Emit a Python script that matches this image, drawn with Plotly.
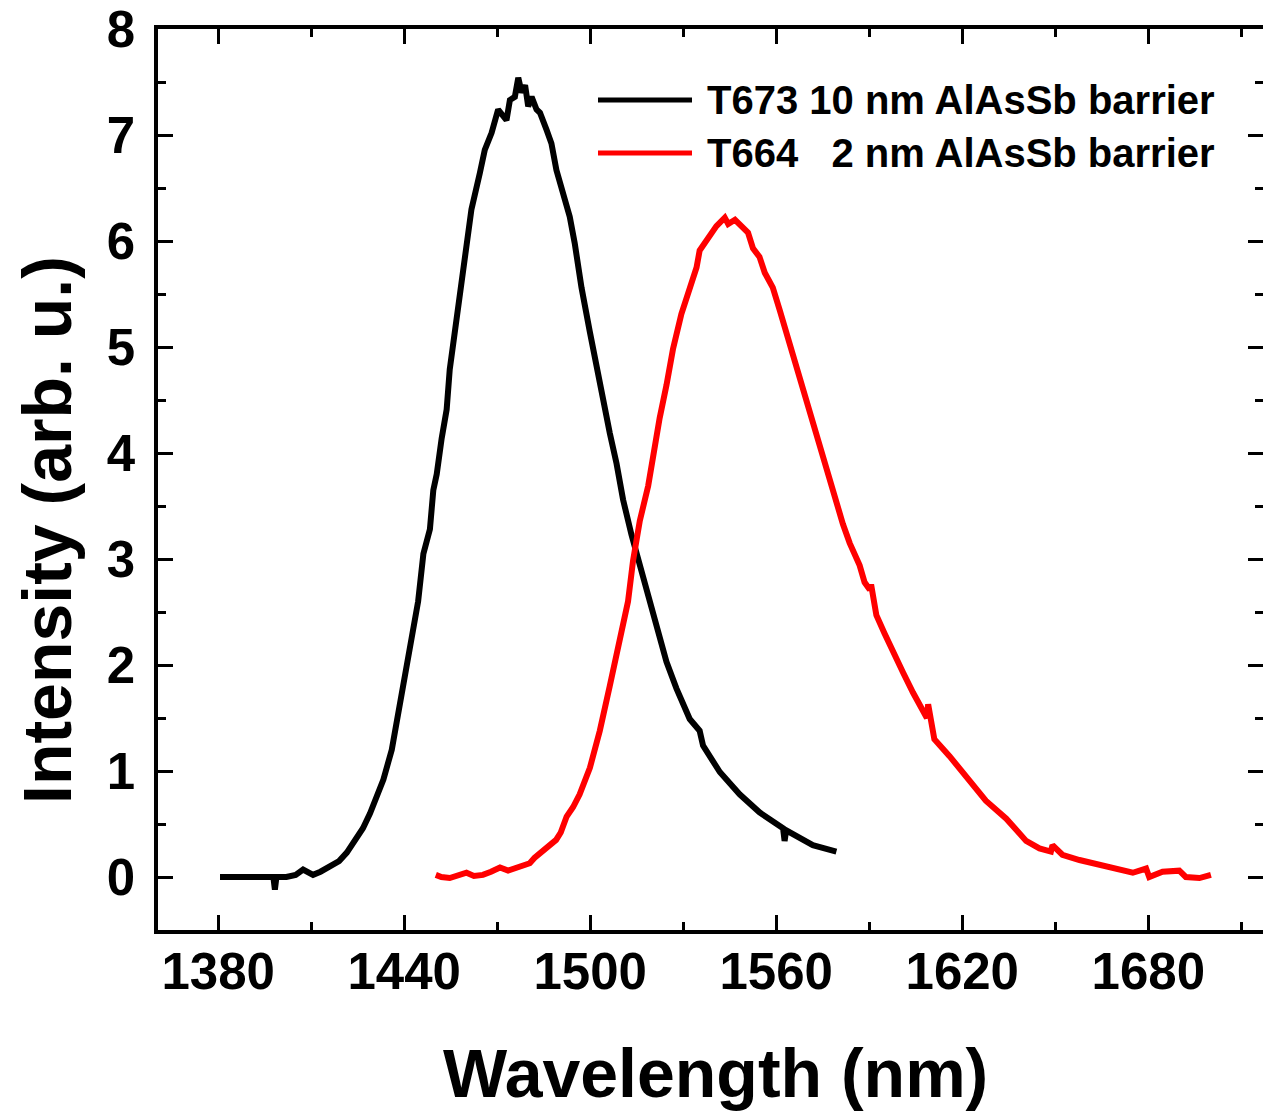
import plotly.graph_objects as go

# ---- data ----
t673_wavelength = [
    1380.6, 1385, 1390.3, 1395, 1397.8, 1398.3, 1398.8, 1402, 1405, 1407.4,
    1410.6, 1413, 1416, 1419, 1421.5, 1424, 1426.7, 1429, 1431.1, 1433.3,
    1436, 1439.2, 1442.4, 1444.5, 1446.2, 1448.3, 1449.4, 1450.5, 1452.1, 1453.7,
    1454.7, 1456.4, 1458, 1460.1, 1461.7, 1464.4, 1466, 1468.2, 1470.3, 1473,
    1474.1, 1475.7, 1476.8, 1477.9, 1479, 1480, 1481.1, 1482.7, 1483.8, 1485.9,
    1487.5, 1489.1, 1491.3, 1493.4, 1495, 1497.2, 1499.9, 1502, 1504.2, 1506.3,
    1508.5, 1510.6, 1513.3, 1516, 1518.7, 1521.4, 1524.6, 1527.8, 1532.1, 1535.3,
    1536.4, 1541.8, 1548.2, 1554.6, 1562.2, 1562.7, 1563.2, 1571.8, 1579.4,
]
t673_intensity = [
    0.0, 0.0, -0.01, 0.0, 0.0, -0.12, 0.0, 0.0, 0.02, 0.07,
    0.02, 0.05, 0.10, 0.15, 0.23, 0.33, 0.46, 0.60, 0.75, 0.92,
    1.20, 1.73, 2.30, 2.60, 3.05, 3.28, 3.65, 3.80, 4.14, 4.41,
    4.79, 5.16, 5.43, 5.90, 6.30, 6.64, 6.86, 7.02, 7.24, 7.14,
    7.33, 7.36, 7.54, 7.40, 7.47, 7.27, 7.36, 7.24, 7.21, 7.05,
    6.92, 6.67, 6.42, 6.23, 5.98, 5.56, 5.14, 4.81, 4.52, 4.19,
    3.90, 3.56, 3.23, 2.94, 2.61, 2.32, 2.03, 1.78, 1.49, 1.38,
    1.24, 0.99, 0.78, 0.61, 0.46, 0.34, 0.44, 0.30, 0.24,
]

t664_wavelength = [
    1450.2, 1452, 1454.7, 1457, 1460.1, 1462.5, 1465.4, 1468, 1470.9, 1473.5,
    1476.2, 1478.5, 1480.5, 1482, 1483.8, 1485.5, 1487, 1489, 1490.5, 1492.4,
    1494.5, 1496.6, 1499.9, 1503.1, 1506.3, 1509.5, 1512.2, 1513.8, 1516, 1518.7,
    1520.8, 1522.4, 1524.6, 1526.7, 1529.4, 1532.1, 1534.3, 1535.3, 1538.5, 1540.7,
    1543.4, 1544.5, 1546.7, 1549.3, 1550.9, 1552.5, 1554.6, 1556.3, 1558.9, 1561.1,
    1563.2, 1565.4, 1567.5, 1570.2, 1572.9, 1576.1, 1578.3, 1581.5, 1583.7, 1586.9,
    1588.5, 1590.2, 1590.6, 1592.3, 1594.9, 1597.6, 1600.9, 1604.1, 1607.4, 1608.6,
    1609, 1611, 1615.9, 1621.2, 1627.6, 1634.2, 1640.6, 1644.9, 1648.6, 1649.1,
    1652.3, 1657.8, 1662.1, 1666.4, 1670.7, 1675, 1679.3, 1680.3, 1684.6, 1690,
    1692.1, 1696.5, 1700.2,
]
t664_intensity = [
    0.02, 0.0, -0.01, 0.01, 0.04, 0.01, 0.02, 0.05, 0.09, 0.06,
    0.09, 0.11, 0.13, 0.18, 0.22, 0.26, 0.30, 0.35, 0.42, 0.57,
    0.66, 0.78, 1.03, 1.38, 1.80, 2.22, 2.60, 2.98, 3.36, 3.69,
    4.06, 4.33, 4.64, 4.98, 5.31, 5.56, 5.75, 5.91, 6.06, 6.14,
    6.22, 6.16, 6.20, 6.12, 6.08, 5.93, 5.85, 5.70, 5.56, 5.35,
    5.14, 4.93, 4.73, 4.44, 4.15, 3.88, 3.65, 3.33, 3.15, 2.94,
    2.78, 2.71, 2.76, 2.47, 2.30, 2.12, 1.93, 1.74, 1.55, 1.50,
    1.63, 1.30, 1.14, 0.94, 0.72, 0.55, 0.34, 0.27, 0.24, 0.30,
    0.21, 0.16, 0.13, 0.10, 0.07, 0.04, 0.08, 0.0, 0.05, 0.06,
    0.0, -0.01, 0.02,
]

series_names = ["T673 10 nm AlAsSb barrier", "T664\u00a0\u00a0\u00a02 nm AlAsSb barrier"]
series_colors = ["#000000", "#ff0000"]
x_tick_values = [1380, 1440, 1500, 1560, 1620, 1680]
y_tick_values = [0, 1, 2, 3, 4, 5, 6, 7, 8]
x_title = "Wavelength (nm)"
y_title = "Intensity (arb. u.)"

FONT = "Liberation Sans, Arial, Helvetica, sans-serif"

fig = go.Figure()
for xs, ys, name, col in [
    (t673_wavelength, t673_intensity, series_names[0], series_colors[0]),
    (t664_wavelength, t664_intensity, series_names[1], series_colors[1]),
]:
    fig.add_trace(go.Scatter(x=xs, y=ys, mode="lines", name=name,
                             line=dict(color=col, width=6), showlegend=False))

# invisible trace to drive the right-hand tick axis
fig.add_trace(go.Scatter(x=[1400], y=[0], yaxis="y2", mode="markers",
                         marker=dict(opacity=0), showlegend=False, hoverinfo="skip"))

tickfont = dict(family=FONT, size=51, color="black", weight="bold")

fig.update_layout(
    width=1263, height=1111,
    margin=dict(l=158, r=0, t=29, b=181),
    paper_bgcolor="white", plot_bgcolor="white",
    xaxis=dict(
        range=[1360.6, 1717.0], tickmode="array", tickvals=x_tick_values,
        ticks="inside", ticklen=15, tickwidth=3, tickcolor="black",
        showline=True, linewidth=3.5, linecolor="black", mirror="ticks",
        showgrid=False, zeroline=False, tickfont=tickfont,
        ticklabelstandoff=-6,
        minor=dict(tickmode="linear", tick0=1350, dtick=30, ticks="inside",
                   ticklen=8, tickwidth=3, tickcolor="black", showgrid=False),
    ),
    yaxis=dict(
        range=[-0.5, 8], tickmode="array", tickvals=y_tick_values,
        ticks="inside", ticklen=15, tickwidth=3, tickcolor="black",
        showline=True, linewidth=3.5, linecolor="black", mirror=False,
        showgrid=False, zeroline=False, tickfont=tickfont,
        ticklabelstandoff=9,
        minor=dict(tickmode="linear", tick0=-0.5, dtick=0.5, ticks="inside",
                   ticklen=8, tickwidth=3, tickcolor="black", showgrid=False),
    ),
    yaxis2=dict(
        range=[-0.5, 8], overlaying="y", side="right",
        tickmode="array", tickvals=y_tick_values,
        ticks="inside", ticklen=15, tickwidth=3, tickcolor="black",
        showline=False, showgrid=False, zeroline=False, showticklabels=False,
        minor=dict(tickmode="linear", tick0=-0.5, dtick=0.5, ticks="inside",
                   ticklen=8, tickwidth=3, tickcolor="black", showgrid=False),
    ),
)

W_PLOT = 1263 - 158
H_PLOT = 1111 - 29 - 181

def px_x(p):
    return (p - 158) / W_PLOT

def px_y(p):
    return (1111 - 181 - p) / H_PLOT

annotations = [
    dict(text=x_title, xref="paper", yref="paper", x=px_x(715), y=px_y(1073),
         xanchor="center", yanchor="middle", showarrow=False,
         font=dict(family=FONT, size=68, color="black", weight="bold")),
    dict(text=y_title, xref="paper", yref="paper", x=px_x(47), y=px_y(530),
         xanchor="center", yanchor="middle", showarrow=False, textangle=-90,
         font=dict(family=FONT, size=68, color="black", weight="bold")),
]
shapes = []
legend_rows = [100, 153]
for name, col, row in zip(series_names, series_colors, legend_rows):
    shapes.append(dict(type="line", xref="paper", yref="paper",
                       x0=px_x(598), x1=px_x(692), y0=px_y(row), y1=px_y(row),
                       line=dict(color=col, width=5)))
    annotations.append(dict(text=name, xref="paper", yref="paper",
                            x=px_x(705), y=px_y(row), xanchor="left", yanchor="middle",
                            showarrow=False,
                            font=dict(family=FONT, size=40, color="black", weight="bold")))

fig.update_layout(annotations=annotations, shapes=shapes)

fig.write_html("out.html")
